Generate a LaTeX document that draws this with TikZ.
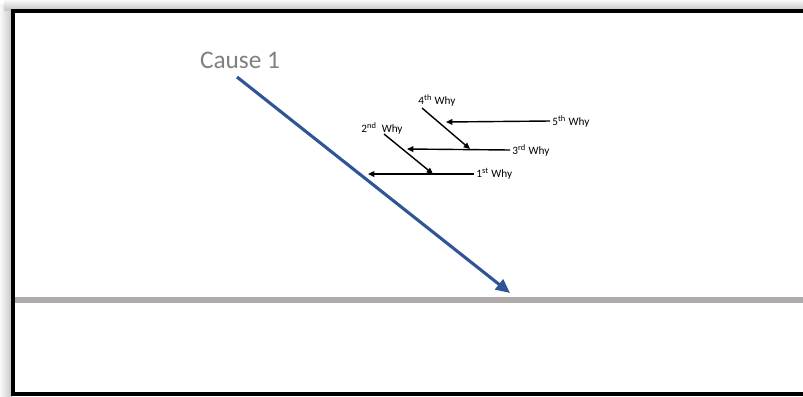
\documentclass[tikz,border=0pt]{standalone}
\usepackage{fontspec}
\setmainfont{Carlito}
\usetikzlibrary{arrows.meta}
\usepackage{xcolor}
\definecolor{causeblue}{RGB}{47,85,151}
\definecolor{spinegray}{RGB}{175,171,171}
\definecolor{labelgray}{RGB}{128,128,128}

\begin{document}
\begin{tikzpicture}[x=0.025cm,y=-0.025cm,line cap=butt,
  whylbl/.style={font=\fontsize{8}{9}\selectfont,inner sep=1.5pt},
  whyarrow/.style={-{Triangle[length=4.5pt,width=4pt]},line width=1pt},
  causearrow/.style={-{Triangle[length=10pt,width=9pt]},line width=2.2pt,causeblue}]
\useasboundingbox (0,0) rectangle (803,396);
% frame and its shadow
\shade[left color=gray!5,right color=gray!45] (0,4) rectangle (12,396);
\shade[top color=gray!5,bottom color=gray!45] (4,0) rectangle (803,10);
\fill[white] (13,11) rectangle (803,394);
\draw[line width=2.2pt] (805,11) -- (13,11) -- (13,394) -- (805,394);
% spine
\draw[spinegray,line width=4.3pt] (15,300) -- (803,300);
% cause
\node[text=labelgray,font=\fontsize{18}{20}\selectfont] (cause) at (240,60) {Cause 1};
\coordinate (cs) at (237,77);
\coordinate (ce) at (510,293);
\draw[causearrow] (cs) -- (ce);
% whys
\node[whylbl,anchor=west] (w1) at (474,174) {1\textsuperscript{st} Why};
\node[whylbl] (w2) at (382,128) {2\textsuperscript{nd}\ \ Why};
\node[whylbl,anchor=west] (w3) at (510,150) {3\textsuperscript{rd} Why};
\node[whylbl] (w4) at (437,100) {4\textsuperscript{th} Why};
\node[whylbl,anchor=west] (w5) at (550,121) {5\textsuperscript{th} Why};
\coordinate (e1) at (368,174);
\coordinate (e3) at (407,149);
\coordinate (e5) at (446,122);
\coordinate (s2) at (384,134);
\coordinate (e2) at (433,174);
\coordinate (s4) at (422,108);
\coordinate (e4) at (470,149);
\draw[whyarrow] (w1.west) -- (e1);
\draw[whyarrow] (w3.west) -- (e3);
\draw[whyarrow] (w5.west) -- (e5);
\draw[whyarrow] (s2) -- (e2);
\draw[whyarrow] (s4) -- (e4);
\end{tikzpicture}
\end{document}
